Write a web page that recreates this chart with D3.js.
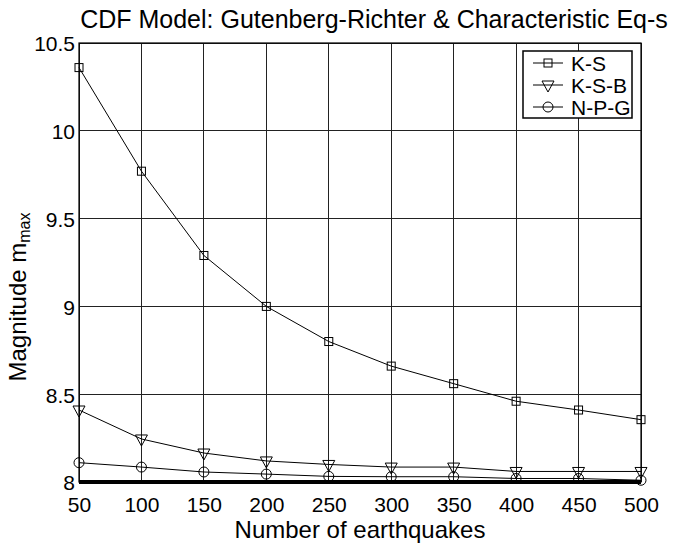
<!DOCTYPE html>
<html>
<head>
<meta charset="utf-8">
<script src="https://d3js.org/d3.v7.min.js"></script>
<style>
  body { margin: 0; background: #fff; }
  text { font-family: "Liberation Sans", Arial, sans-serif; fill: #000; }
  .grid line { stroke: #222; stroke-width: 1; shape-rendering: crispEdges; }
</style>
</head>
<body>
<div id="chart"></div>
<script>
var width = 684, height = 545;
var margin = {top: 43, right: 43, bottom: 63, left: 79};

// sample size (number of earthquakes)
var counts = [50, 100, 150, 200, 250, 300, 350, 400, 450, 500];
var ks  = [10.36, 9.77, 9.29, 9.00, 8.80, 8.66, 8.56, 8.46, 8.41, 8.355];
var ksb = [8.41, 8.245, 8.165, 8.12, 8.10, 8.085, 8.085, 8.06, 8.06, 8.06];
var npg = [8.11, 8.085, 8.057, 8.045, 8.032, 8.03, 8.03, 8.02, 8.02, 8.01];
var yTicks = [8, 8.5, 9, 9.5, 10, 10.5];
var seriesNames = ["K-S", "K-S-B", "N-P-G"];
var seriesMarks = ["square", "triangle", "circle"];

var svg = d3.select("#chart").append("svg")
    .attr("width", width)
    .attr("height", height);

var x = d3.scaleLinear().domain([50, 500]).range([margin.left, width - margin.right]);
var y = d3.scaleLinear().domain([8, 10.5]).range([height - margin.bottom, margin.top]);

// grid
var grid = svg.append("g").attr("class", "grid");
grid.selectAll(".vx").data(counts).enter().append("line")
    .attr("x1", d => x(d)).attr("x2", d => x(d))
    .attr("y1", y(8)).attr("y2", y(10.5));
grid.selectAll(".hy").data(yTicks).enter().append("line")
    .attr("x1", x(50)).attr("x2", x(500))
    .attr("y1", d => y(d)).attr("y2", d => y(d));

// frame
svg.append("rect")
    .attr("x", x(50)).attr("y", y(10.5))
    .attr("width", x(500) - x(50)).attr("height", y(8) - y(10.5))
    .attr("fill", "none").attr("stroke", "#000").attr("stroke-width", 1.2);
svg.append("line")
    .attr("x1", x(50)).attr("x2", x(500))
    .attr("y1", y(8)).attr("y2", y(8))
    .attr("stroke", "#000").attr("stroke-width", 4);

// axes (labels only)
var xAxis = svg.append("g")
    .attr("transform", "translate(0," + y(8) + ")")
    .call(d3.axisBottom(x).tickValues(counts).tickSize(0).tickPadding(15));
var yAxis = svg.append("g")
    .attr("transform", "translate(" + x(50) + ",0)")
    .call(d3.axisLeft(y).tickValues(yTicks).tickSize(0).tickPadding(4)
        .tickFormat(d3.format("")));
[xAxis, yAxis].forEach(function (g) {
    g.select(".domain").remove();
    g.selectAll("text").style("font-size", "21px").attr("fill", "#000");
});
yAxis.selectAll("text").attr("dy", "0.38em");

// markers
function drawMark(g, kind, cx, cy) {
    if (kind === "square") {
        g.append("rect").attr("x", cx - 4).attr("y", cy - 4)
            .attr("width", 8).attr("height", 8);
    } else if (kind === "triangle") {
        g.append("path").attr("d", "M" + (cx - 6) + "," + (cy - 4) + "L" + (cx + 6) + "," + (cy - 4) + "L" + cx + "," + (cy + 7) + "Z");
    } else {
        g.append("circle").attr("cx", cx).attr("cy", cy).attr("r", 5);
    }
}

var line = d3.line().x((d, i) => x(counts[i])).y(d => y(d));
[ks, ksb, npg].forEach(function (vals, k) {
    svg.append("path").datum(vals)
        .attr("d", line)
        .attr("fill", "none").attr("stroke", "#000").attr("stroke-width", 1);
    var mg = svg.append("g").attr("fill", "none").attr("stroke", "#000").attr("stroke-width", 1);
    vals.forEach(function (v, i) { drawMark(mg, seriesMarks[k], x(counts[i]), y(v)); });
});

// legend
var lg = svg.append("g").attr("transform", "translate(523,51)");
lg.append("rect").attr("width", 109).attr("height", 67)
    .attr("fill", "#fff").attr("stroke", "#000").attr("stroke-width", 1.5);
seriesNames.forEach(function (name, k) {
    var ly = 12 + k * 22;
    lg.append("line").attr("x1", 10).attr("x2", 40).attr("y1", ly).attr("y2", ly)
        .attr("stroke", "#000");
    var mg = lg.append("g").attr("fill", "none").attr("stroke", "#000");
    drawMark(mg, seriesMarks[k], 25, ly);
    lg.append("text").attr("x", 48).attr("y", ly + 8)
        .style("font-size", "21px").text(name);
});

// title and axis labels
svg.append("text")
    .attr("x", 374).attr("y", 28)
    .attr("text-anchor", "middle")
    .style("font-size", "25px")
    .text("CDF Model: Gutenberg-Richter & Characteristic Eq-s");

svg.append("text")
    .attr("x", (x(50) + x(500)) / 2).attr("y", 538)
    .attr("text-anchor", "middle")
    .style("font-size", "24px")
    .text("Number of earthquakes");

var yl = svg.append("text")
    .attr("transform", "translate(26,297) rotate(-90)")
    .attr("text-anchor", "middle")
    .style("font-size", "24px");
yl.append("tspan").text("Magnitude m");
yl.append("tspan").attr("dy", 4).style("font-size", "16px").text("max");
</script>
</body>
</html>
